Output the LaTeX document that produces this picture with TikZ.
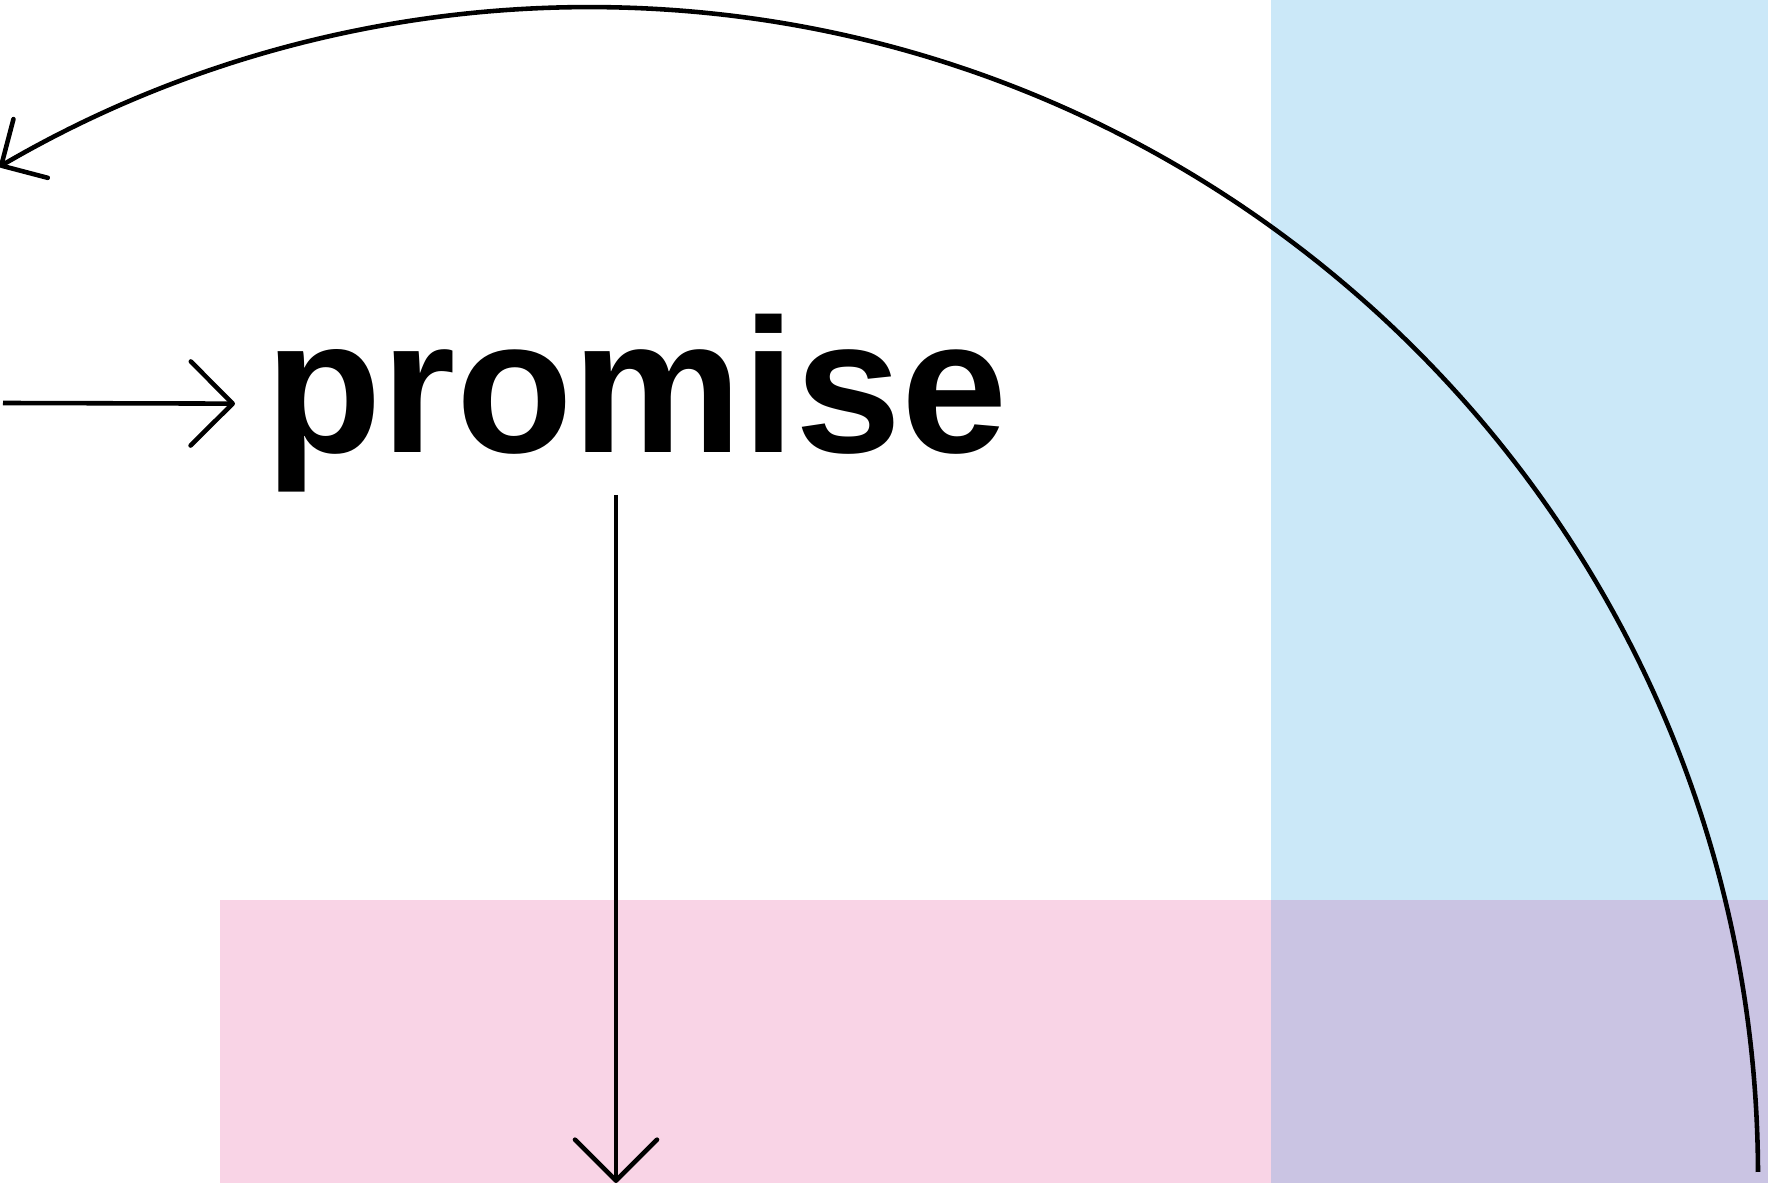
\documentclass[tikz,border=0pt]{standalone}
\usepackage{fontspec}
\setmainfont{Liberation Sans}
\usepackage{xcolor}
\definecolor{sky}{HTML}{CBE8F8}
\definecolor{blush}{HTML}{F9D4E6}
\definecolor{lilac}{HTML}{CAC4E3}
\usepackage{tikz}
\usetikzlibrary{arrows.meta,positioning,calc}
\tikzset{
  every picture/.style={line width=1.3pt, x=0.01cm, y=0.01cm},
  barb/.style={-{Straight Barb[length=#1, width=2*#1, round]}, draw=black},
  barb/.default=0.42cm,
  word/.style={font=\bfseries\fontsize{54.3}{60}\selectfont, inner xsep=0.28cm, inner ysep=0pt},
}

\begin{document}
\begin{tikzpicture}
  \useasboundingbox (0,0) rectangle (1768,-1183);

  % coloured bands
  \fill[sky] (1271,0) rectangle (1768,-1183);
  \fill[blush] (220,-900) rectangle (1271,-1183);
  \fill[lilac] (1271,-900) rectangle (1768,-1183);

  \node[word, anchor=base west] (word) at (235,-453) {promise};

  \coordinate (feed) at (3,-403);
  \coordinate (sink) at (616,-1183);
  \coordinate (loopstart) at (1758,-1172);

  \draw[barb] (feed) -- (word.west);
  \draw[barb=0.41cm] (word.south -| sink) -- (sink);
  \draw[barb=0.34cm] (loopstart) arc[start angle=0.2, end angle=120.3, radius=1169];
\end{tikzpicture}
\end{document}
